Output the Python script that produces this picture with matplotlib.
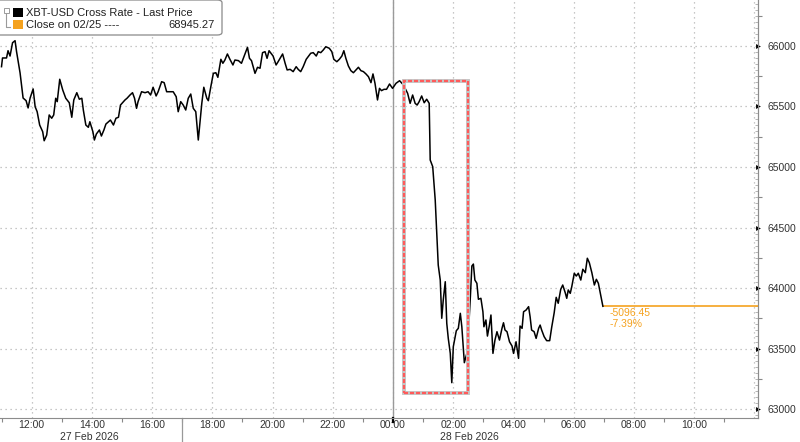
import numpy as np
import pandas as pd
import matplotlib
matplotlib.use('Agg')
import matplotlib.pyplot as plt
import matplotlib.dates as mdates
import matplotlib.transforms as mtransforms
from matplotlib.patches import Rectangle, FancyBboxPatch
from matplotlib.lines import Line2D

plt.rcParams['font.family'] = ['Liberation Sans', 'DejaVu Sans']
NARROW = ['Liberation Sans Narrow', 'Liberation Sans', 'DejaVu Sans']

# minutes relative to 28 Feb 2026 00:00
minutes = [-780, -778, -770, -767, -763, -758, -753, -750, -743, -737, -731, -727, -723, -717, -713, -709,
           -704, -698, -695, -690, -685, -680, -676, -672, -669, -664, -658, -652, -645, -640, -636, -630,
           -625, -620, -617, -612, -607, -604, -598, -595, -591, -585, -581, -576, -572, -567, -563, -557,
           -552, -547, -543, -539, -534, -530, -524, -519, -515, -511, -508, -501, -494, -488, -483, -478,
           -472, -468, -461, -456, -451, -438, -432, -428, -423, -418, -413, -408, -403, -398, -393, -388,
           -381, -377, -371, -368, -363, -358, -353, -349, -343, -339, -335, -330, -325, -319, -315, -308,
           -302, -297, -290, -286, -282, -275, -270, -265, -260, -255, -251, -247, -242, -239, -233, -229,
           -220, -215, -211, -205, -199, -193, -189, -184, -179, -173, -169, -164, -159, -153, -149, -144,
           -139, -134, -127, -122, -118, -112, -107, -102, -98, -94, -89, -84, -79, -74, -69, -64,
           -59, -54, -49, -44, -40, -36, -31, -27, -23, -18, -13, -7, -1, 6, 13, 19,
           24, 29, 34, 39, 44, 48, 52, 57, 62, 67, 72, 74, 79, 84, 87, 90,
           94, 97, 100, 104, 107, 110, 114, 117, 120, 126, 130, 134, 137, 142, 147, 150,
           154, 157, 160, 163, 167, 170, 175, 179, 181, 185, 188, 192, 195, 199, 203, 207,
           212, 217, 220, 223, 227, 232, 237, 240, 245, 250, 253, 257, 260, 265, 270, 273,
           276, 281, 285, 290, 293, 296, 301, 306, 312, 316, 321, 325, 329, 334, 338, 343,
           346, 349, 353, 356, 361, 365, 369, 374, 378, 383, 387, 391, 396, 401, 405, 409,
           414, 418]
price = [65829, 65901, 65901, 65961, 65917, 66027, 66044, 65953, 65777, 65570, 65548, 65488, 65570, 65645, 65498, 65457,
         65347, 65292, 65217, 65264, 65430, 65403, 65430, 65568, 65540, 65725, 65636, 65568, 65531, 65411, 65554, 65614,
         65560, 65568, 65471, 65347, 65328, 65374, 65292, 65223, 65273, 65306, 65256, 65306, 65355, 65374, 65388, 65347,
         65403, 65411, 65512, 65531, 65554, 65568, 65595, 65614, 65568, 65485, 65540, 65622, 65614, 65622, 65595, 65659,
         65587, 65622, 65705, 65697, 65622, 65622, 65581, 65457, 65540, 65512, 65471, 65568, 65603, 65485, 65457, 65223,
         65526, 65659, 65568, 65548, 65664, 65774, 65779, 65741, 65890, 65857, 65884, 65934, 65890, 65843, 65884, 65879,
         65857, 65912, 65989, 65898, 65879, 65774, 65824, 65816, 65945, 65953, 65898, 65961, 65934, 65917, 65843, 65870,
         65934, 65857, 65802, 65807, 65788, 65829, 65807, 65788, 65829, 65890, 65912, 65940, 65945, 65917, 65953, 65945,
         65967, 65994, 65981, 65953, 65890, 65870, 65890, 65917, 65961, 65898, 65835, 65796, 65779, 65802, 65824, 65796,
         65788, 65769, 65746, 65697, 65769, 65692, 65554, 65650, 65631, 65642, 65642, 65686, 65650, 65692, 65713, 65686,
         65650, 65609, 65526, 65595, 65526, 65512, 65540, 65587, 65531, 65560, 65526, 65058, 65003, 64727, 64452, 64190,
         64066, 63750, 63901, 64052, 63708, 63584, 63460, 63218, 63515, 63647, 63667, 63791, 63680, 63383, 63460, 63626,
         63928, 64182, 64198, 64066, 64039, 63907, 63915, 63804, 63680, 63736, 63603, 63694, 63777, 63460, 63570, 63639,
         63570, 63667, 63713, 63653, 63639, 63556, 63521, 63460, 63556, 63419, 63686, 63667, 63804, 63818, 63846, 63763,
         63653, 63639, 63584, 63667, 63694, 63653, 63598, 63565, 63565, 63675, 63796, 63923, 63874, 63989, 64025, 63961,
         63915, 63984, 63956, 64011, 64122, 64099, 64122, 64066, 64155, 64127, 64246, 64209, 64127, 64025, 64072, 64039,
         63934, 63849]

close_0225 = 68945.27
last_price = 63848.82
change = -5096.45
change_pct = -7.39
box_minutes = [21, 149]        # highlighted window 00:21 - 02:29
box_prices = [63135, 65713]
y_ticks = [63000, 63500, 64000, 64500, 65000, 65500, 66000]
day_labels = ['27 Feb 2026', '28 Feb 2026']
day_label_minutes = [-606, 153]

base = pd.Timestamp('2026-02-28 00:00')
t = base + pd.to_timedelta(minutes, unit='min')
xmin = base + pd.Timedelta(minutes=-783)
xmax = base + pd.Timedelta(minutes=727)
label_cutoff = mdates.date2num(base + pd.Timedelta(hours=11))

fig = plt.figure(figsize=(8, 4.42), dpi=100)
ax = fig.add_axes([0, 1 - 418 / 442, 758 / 800, 418 / 442])

GRID = '#b5b5b5'
ORANGE = '#f5a21f'

ax.plot(t, price, color='black', lw=1.1, zorder=4)
ax.hlines(last_price, t[-1], xmax, color=ORANGE, lw=1.2, zorder=3)
ax.axvline(base, color='#9a9a9a', lw=1.0, zorder=2)

# highlight box
b0 = mdates.date2num(base + pd.Timedelta(minutes=box_minutes[0]))
b1 = mdates.date2num(base + pd.Timedelta(minutes=box_minutes[1]))
ax.add_patch(Rectangle((b0, box_prices[0]), b1 - b0, box_prices[1] - box_prices[0],
                       fill=False, ec='#c4c4c4', lw=2.8, zorder=5))
ax.add_patch(Rectangle((b0, box_prices[0]), b1 - b0, box_prices[1] - box_prices[0],
                       fill=False, ec='#ff5a5a', lw=1.6, ls=(0, (1.8, 0.9)), zorder=6))

ax.set_xlim(xmin, xmax)
ax.set_ylim(62926, 66380)

# x axis
ax.xaxis.set_major_locator(mdates.HourLocator(byhour=range(0, 24, 2)))
ax.xaxis.set_major_formatter(matplotlib.ticker.FuncFormatter(
    lambda v, p: '' if v > label_cutoff else mdates.num2date(v).strftime('%H:%M')))
ax.xaxis.set_minor_locator(mdates.HourLocator(byhour=range(1, 24, 2)))
ax.tick_params(axis='x', which='major', length=0, pad=1.5, labelsize=7.5, labelcolor='#333333')
ax.tick_params(axis='x', which='minor', length=3, color='#888888', width=0.8)

# y axis on the right
ax.yaxis.tick_right()
ax.set_yticks(y_ticks)
ax.yaxis.set_major_formatter(matplotlib.ticker.FuncFormatter(lambda v, p: f'{v:.0f}'))
ax.yaxis.set_minor_locator(matplotlib.ticker.MultipleLocator(50))
ax.tick_params(axis='y', which='major', length=0, pad=7, labelsize=7.5, labelcolor='#333333')
ax.tick_params(axis='y', which='minor', direction='in', length=2, color='#aaaaaa', width=0.6)
for tk in ax.yaxis.get_major_ticks():
    tk.tick2line.set_marker('>')
    tk.tick2line.set_markersize(3.5)
    tk.tick2line.set_color('black')
    tk.tick2line.set_markeredgewidth(0)
    tk.tick2line.set_markerfacecolor('black')

sec = ax.secondary_yaxis('right')
sec.set_yticks(np.arange(63250, 66500, 500))
sec.tick_params(axis='y', length=3, color='#888888', width=0.8, labelright=False)
sec.spines['right'].set_color('#8c8c8c')

ax.grid(True, which='major', color=GRID, ls=(0, (1, 3)), lw=0.9)
for s in ['top', 'left']:
    ax.spines[s].set_visible(False)
ax.spines['right'].set_color('#8c8c8c')
ax.spines['bottom'].set_color('#8c8c8c')

# bold tick at midnight, day separator at 17:00
trans = mtransforms.blended_transform_factory(ax.transData, ax.transAxes)
ax.add_line(Line2D([mdates.date2num(base)] * 2, [0, -0.009], transform=trans, color='black', lw=1.6, clip_on=False))
sep = mdates.date2num(base + pd.Timedelta(hours=-7))
ax.add_line(Line2D([sep, sep], [0, -0.06], transform=trans, color='#999999', lw=0.9, clip_on=False))
for lab, m in zip(day_labels, day_label_minutes):
    ax.text(mdates.date2num(base + pd.Timedelta(minutes=m)), -0.0445, lab, transform=trans,
            ha='center', va='center', fontsize=7.5, color='#333333')

# change annotation
ax.annotate(f'{change:.2f}', (t[-1], last_price), xytext=(5, -4.5), textcoords='offset points',
            ha='left', va='center', fontsize=7.5, color=ORANGE, family=NARROW)
ax.annotate(f'{change_pct:.2f}%', (t[-1], last_price), xytext=(5, -12.8), textcoords='offset points',
            ha='left', va='center', fontsize=7.5, color=ORANGE, family=NARROW)

# legend box
def fx(px):
    return px / 800
def fy(py):
    return 1 - py / 442

fig.patches.append(FancyBboxPatch((fx(-5), fy(35)), fx(227), 35 / 442, boxstyle='round,pad=0,rounding_size=0.006',
                                  transform=fig.transFigure, fc='white', ec='#8a8a8a', lw=0.9, zorder=10))
fig.add_artist(Line2D([fx(6), fx(6), fx(10)], [fy(10), fy(27), fy(27)], transform=fig.transFigure,
                      color='#9a9a9a', lw=0.8, zorder=11))
fig.patches.append(Rectangle((fx(4), fy(13)), fx(5), 5 / 442, transform=fig.transFigure,
                             fc='white', ec='#9a9a9a', lw=0.7, zorder=11))
fig.patches.append(Rectangle((fx(13), fy(17)), fx(10), 9 / 442, transform=fig.transFigure,
                             fc='black', ec='none', zorder=11))
fig.patches.append(Rectangle((fx(13), fy(29)), fx(10), 9 / 442, transform=fig.transFigure,
                             fc=ORANGE, ec='none', zorder=11))
fig.text(fx(26), fy(12.5), 'XBT-USD Cross Rate - Last Price', ha='left', va='center',
         fontsize=8, color='#222222', family=NARROW, zorder=12)
fig.text(fx(26), fy(24.5), 'Close on 02/25 ----', ha='left', va='center',
         fontsize=8, color='#222222', family=NARROW, zorder=12)
fig.text(fx(215), fy(24.5), f'{close_0225:.2f}', ha='right', va='center',
         fontsize=8, color='#222222', family=NARROW, zorder=12)

fig.savefig('out.png', dpi=100, facecolor='white')
